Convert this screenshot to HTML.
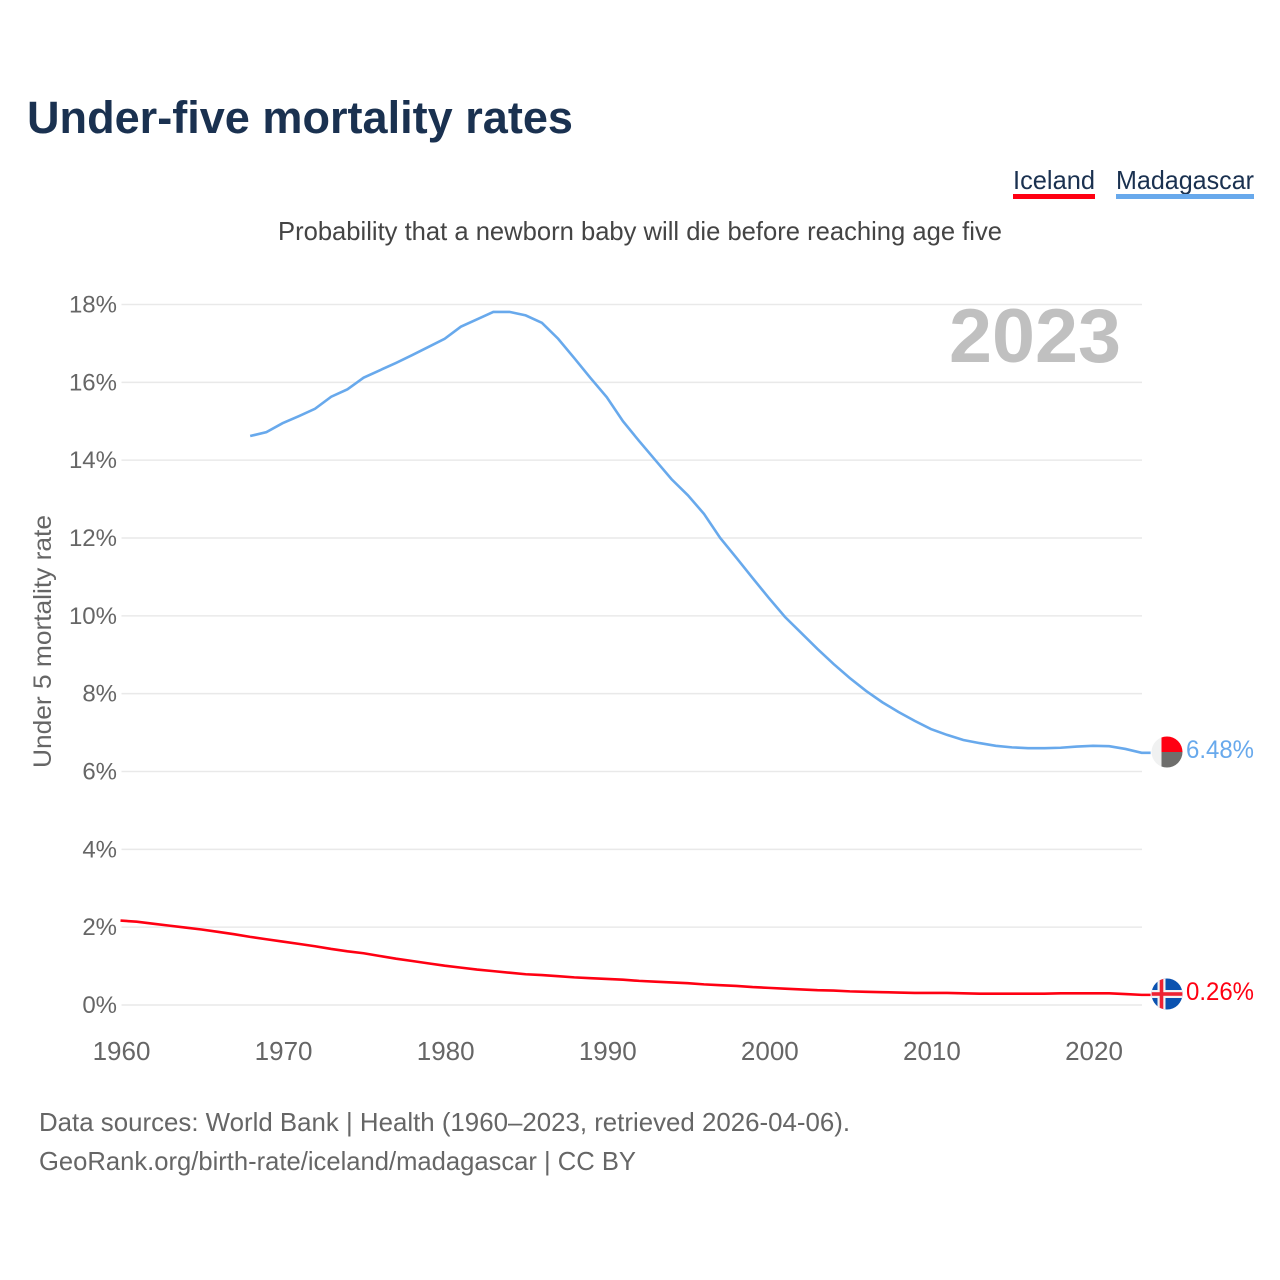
<!DOCTYPE html>
<html lang="en">
<head>
<meta charset="utf-8">
<title>Under-five mortality rates</title>
<style>
html,body{margin:0;padding:0;background:#fff;}
svg{display:block;}
text{font-family:"Liberation Sans",sans-serif;}
</style>
</head>
<body>
<svg id="chart" xmlns="http://www.w3.org/2000/svg" width="1280" height="1280" viewBox="0 0 1280 1280">
  <rect x="0" y="0" width="1280" height="1280" fill="#ffffff"/>
  <text x="27" y="133" font-size="45" font-weight="700" fill="#1a3150" textLength="546" lengthAdjust="spacingAndGlyphs">Under-five mortality rates</text>
  <g>
    <text x="1013" y="189" font-size="26" fill="#1a3150" textLength="82" lengthAdjust="spacingAndGlyphs">Iceland</text>
    <rect x="1013" y="194" width="82" height="5" fill="#ff0012"/>
  </g>
  <g>
    <text x="1116" y="189" font-size="26" fill="#1a3150" textLength="138" lengthAdjust="spacingAndGlyphs">Madagascar</text>
    <rect x="1116" y="194" width="138" height="5" fill="#68a9ec"/>
  </g>
  <text x="278" y="240" font-size="26" fill="#444444" textLength="724" lengthAdjust="spacingAndGlyphs">Probability that a newborn baby will die before reaching age five</text>
  <g id="grid"></g>
  <g id="yticks"></g>
  <g id="xticks"></g>
  <text transform="translate(51,768) rotate(-90)" x="0" y="0" font-size="25" fill="#666666" textLength="253" lengthAdjust="spacingAndGlyphs">Under 5 mortality rate</text>
  <text x="949" y="362" font-size="76" font-weight="700" fill="#c0c0c0" textLength="172" lengthAdjust="spacingAndGlyphs">2023</text>
  <g id="series"></g>
  <defs>
    <clipPath id="clip-mg"><circle id="clip-mg-circle" cx="1167" cy="752" r="15.5"/></clipPath>
    <clipPath id="clip-is"><circle id="clip-is-circle" cx="1167" cy="994" r="15.5"/></clipPath>
  </defs>
  <g clip-path="url(#clip-mg)">
    <rect x="1151" y="736" width="10.5" height="32" fill="#f0f1f1"/>
    <rect x="1161.5" y="736" width="21" height="16" fill="#ff0012"/>
    <rect x="1161.5" y="752" width="21" height="16" fill="#6e6e6c"/>
  </g>
  <g clip-path="url(#clip-is)">
    <rect x="1151" y="978" width="32" height="32" fill="#0b52b0"/>
    <rect x="1157.5" y="978" width="8" height="32" fill="#f3f3f3"/>
    <rect x="1151" y="990" width="32" height="8" fill="#f3f3f3"/>
    <rect x="1159.7" y="978" width="3.6" height="32" fill="#ee2233"/>
    <rect x="1151" y="992.2" width="32" height="3.6" fill="#ee2233"/>
  </g>
  <text x="1186" y="758" font-size="25" fill="#68a9ec" textLength="68" lengthAdjust="spacingAndGlyphs">6.48%</text>
  <text x="1186" y="1000" font-size="25" fill="#ff0012" textLength="68" lengthAdjust="spacingAndGlyphs">0.26%</text>
  <text x="39" y="1131" font-size="26" fill="#666666" textLength="811" lengthAdjust="spacingAndGlyphs">Data sources: World Bank | Health (1960–2023, retrieved 2026-04-06).</text>
  <text x="39" y="1170" font-size="26" fill="#666666" textLength="597" lengthAdjust="spacingAndGlyphs">GeoRank.org/birth-rate/iceland/madagascar | CC BY</text>
</svg>
<script>
const yTickValues = [0, 2, 4, 6, 8, 10, 12, 14, 16, 18];
const xTickValues = [1960, 1970, 1980, 1990, 2000, 2010, 2020];
const icelandStartYear = 1960;
const icelandValues = [2.17,2.14,2.09,2.04,1.99,1.94,1.88,1.82,1.75,1.69,1.63,1.57,1.51,1.44,1.38,1.33,1.26,1.19,1.13,1.07,1.01,0.96,0.91,0.87,0.83,0.79,0.77,0.74,0.71,0.69,0.67,0.65,0.62,0.60,0.58,0.56,0.53,0.51,0.49,0.46,0.44,0.42,0.40,0.38,0.37,0.35,0.34,0.33,0.32,0.31,0.31,0.31,0.30,0.29,0.29,0.29,0.29,0.29,0.30,0.30,0.30,0.30,0.28,0.26];
const madagascarStartYear = 1968;
const madagascarValues = [14.62,14.72,14.95,15.13,15.32,15.63,15.82,16.12,16.31,16.50,16.70,16.91,17.12,17.43,17.62,17.81,17.81,17.72,17.53,17.12,16.62,16.11,15.62,15.00,14.49,14.00,13.51,13.10,12.62,12.00,11.49,10.97,10.46,9.97,9.56,9.15,8.76,8.40,8.07,7.78,7.53,7.30,7.09,6.94,6.81,6.73,6.66,6.62,6.60,6.60,6.61,6.64,6.66,6.65,6.58,6.48];

const svgNS = 'http://www.w3.org/2000/svg';
function tickX(year) { return 121.5 + (year - 1960) * (1094 - 121.5) / 60; }
function lineX(year) { return tickX(year) - 1; }
function yScale(value) { return 1005 - value * (1005 - 304.5) / 18; }
function linePath(startYear, values) {
  const path = values.map(function (v, i) {
    return (i ? 'L' : 'M') + lineX(startYear + i).toFixed(2) + ' ' + yScale(v).toFixed(2);
  }).join(' ');
  const lastYear = startYear + values.length - 1;
  const lastValue = values[values.length - 1];
  return path + ' L' + (lineX(lastYear) + 9).toFixed(2) + ' ' + yScale(lastValue).toFixed(2);
}
const grid = document.getElementById('grid');
const yticks = document.getElementById('yticks');
const xticks = document.getElementById('xticks');
const series = document.getElementById('series');

yTickValues.forEach(function (v) {
  const line = document.createElementNS(svgNS, 'line');
  
  
  line.setAttribute('x1', 121.5);
  line.setAttribute('x2', 1142);
  line.setAttribute('y1', yScale(v));
  line.setAttribute('y2', yScale(v));
  line.setAttribute('stroke', '#e9e9e9');
  line.setAttribute('stroke-width', '1.5');
  grid.appendChild(line);

  const label = document.createElementNS(svgNS, 'text');
  
  
  label.setAttribute('x', 117);
  label.setAttribute('y', yScale(v) + 8);
  label.setAttribute('text-anchor', 'end');
  label.setAttribute('font-size', '24');
  label.setAttribute('fill', '#666666');
  label.textContent = v + '%';
  yticks.appendChild(label);
});

xTickValues.forEach(function (year) {
  const label = document.createElementNS(svgNS, 'text');
  
  
  label.setAttribute('x', tickX(year));
  label.setAttribute('y', 1060);
  label.setAttribute('text-anchor', 'middle');
  label.setAttribute('font-size', '26');
  label.setAttribute('fill', '#666666');
  label.textContent = String(year);
  xticks.appendChild(label);
});

const icelandLine = document.createElementNS(svgNS, 'path');


icelandLine.setAttribute('d', linePath(icelandStartYear, icelandValues));
icelandLine.setAttribute('fill', 'none');
icelandLine.setAttribute('stroke', '#ff0012');
icelandLine.setAttribute('stroke-width', '2.6');
series.appendChild(icelandLine);

const madagascarLine = document.createElementNS(svgNS, 'path');


madagascarLine.setAttribute('d', linePath(madagascarStartYear, madagascarValues));
madagascarLine.setAttribute('fill', 'none');
madagascarLine.setAttribute('stroke', '#68a9ec');
madagascarLine.setAttribute('stroke-width', '2.6');
series.appendChild(madagascarLine);
</script>
</body>
</html>
